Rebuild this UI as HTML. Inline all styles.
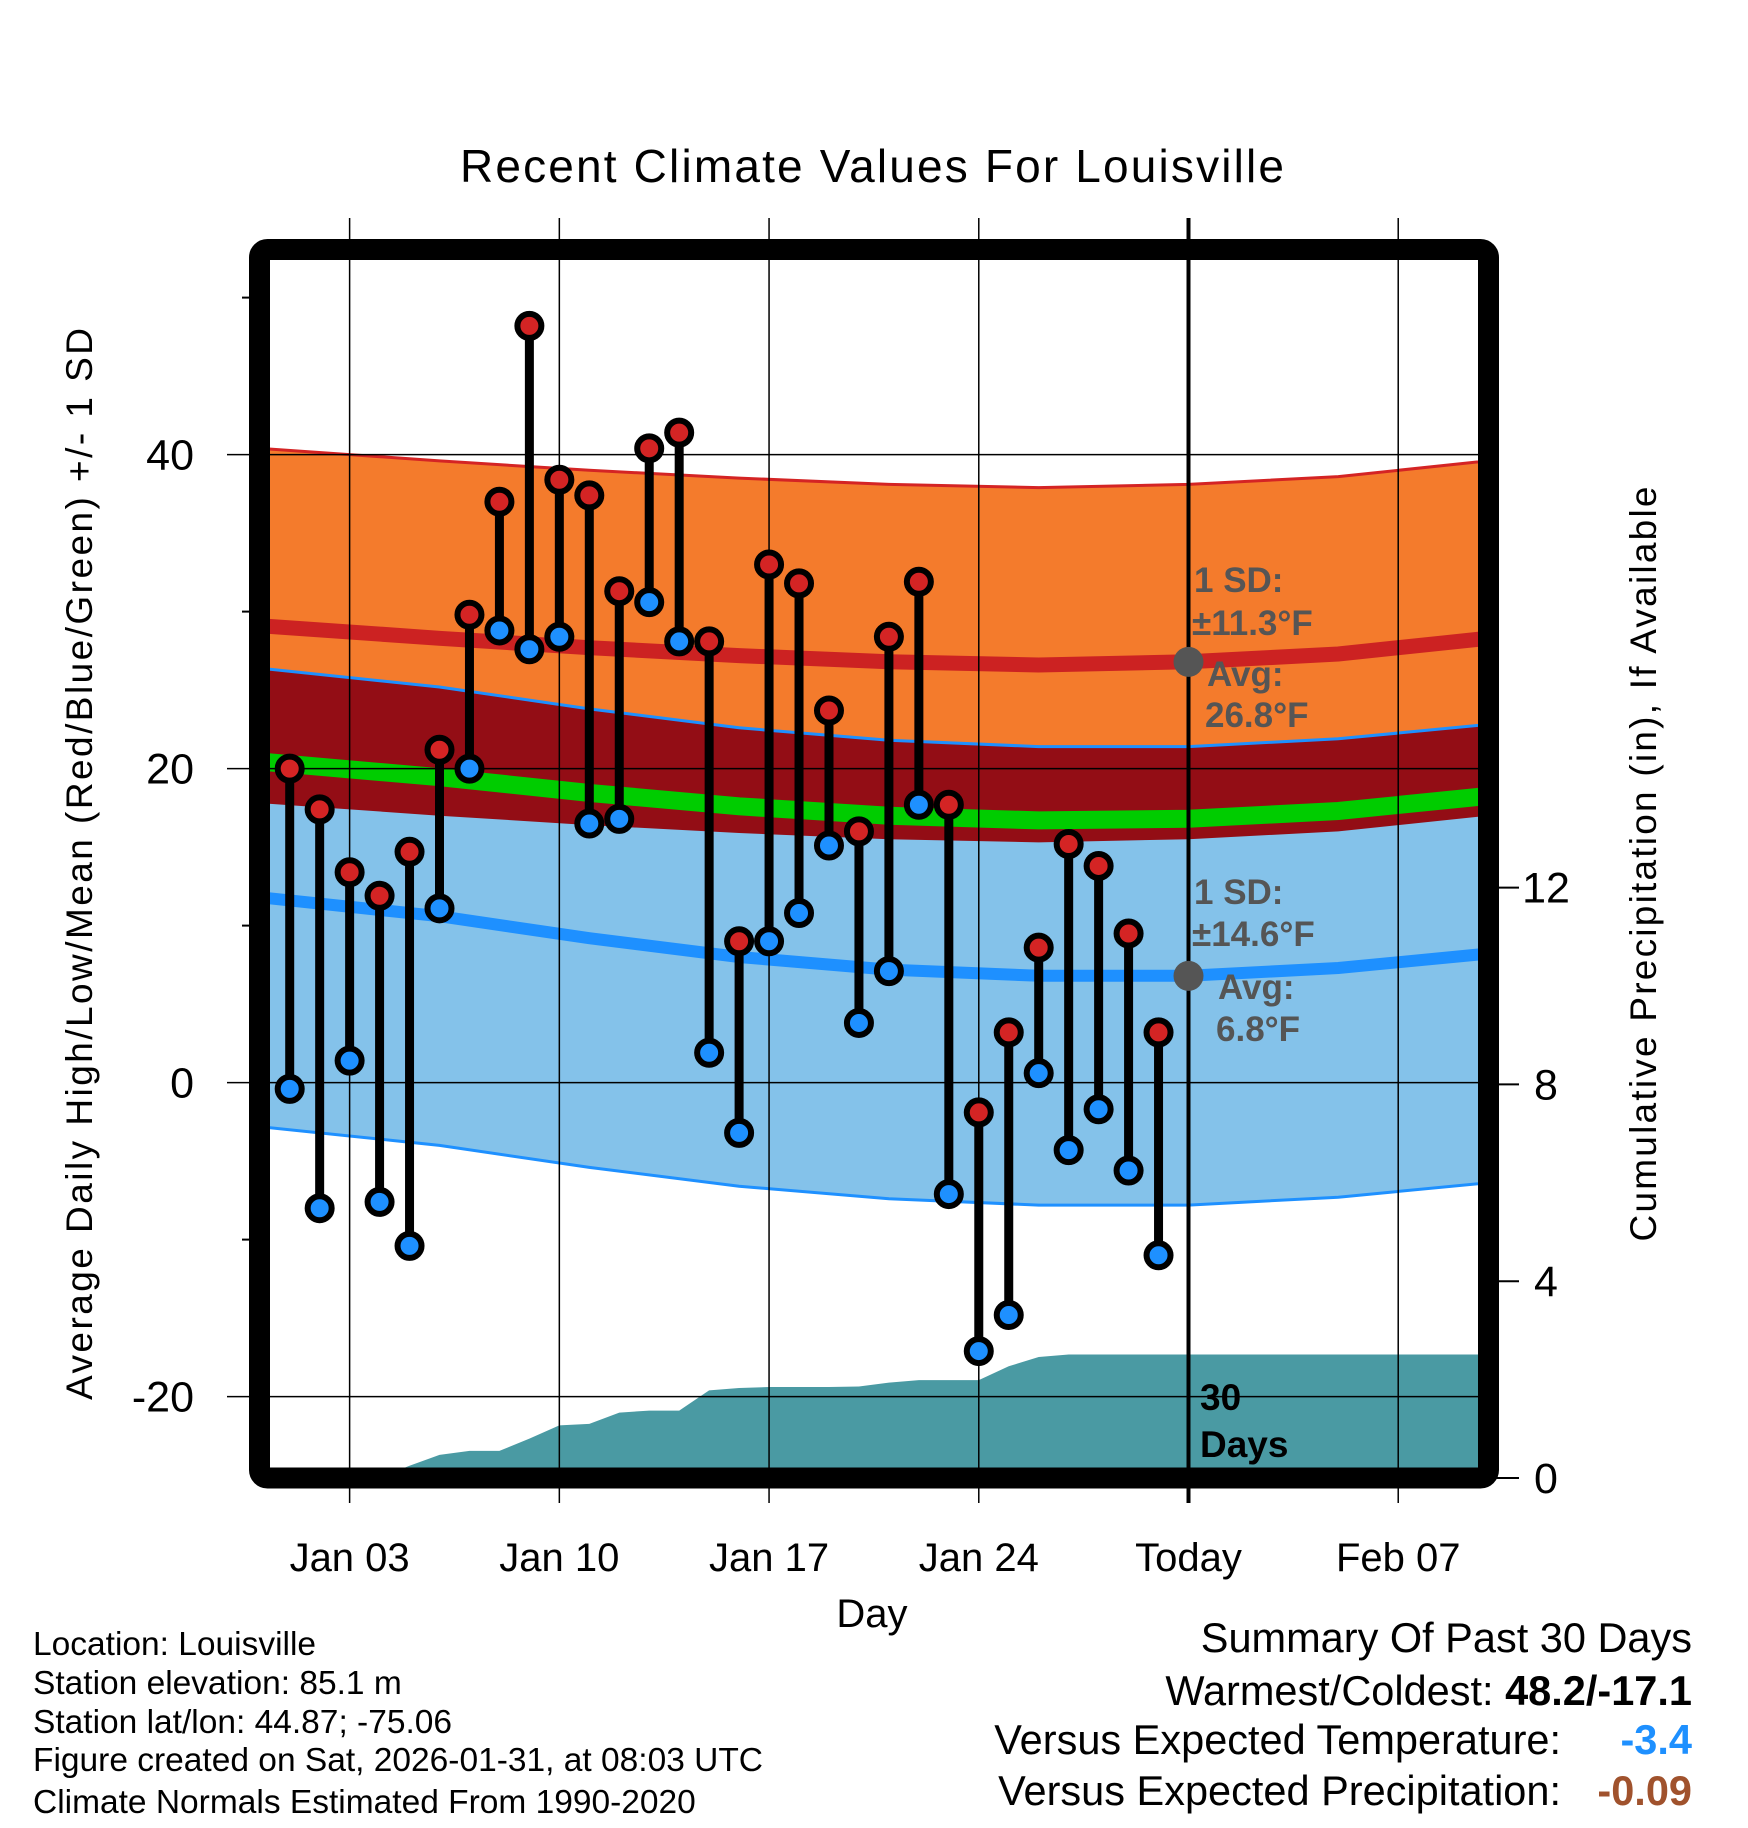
<!DOCTYPE html>
<html><head><meta charset="utf-8"><style>
html,body{margin:0;padding:0;background:#fff}
svg{display:block;font-family:"Liberation Sans",sans-serif}
</style></head><body>
<svg id="chart" width="1748" height="1828" viewBox="0 0 1748 1828" xmlns="http://www.w3.org/2000/svg">
<defs><clipPath id="plotclip"><rect x="269" y="260" width="1209" height="1208"/></clipPath></defs>
<text x="872" y="182" font-size="46" text-anchor="middle" textLength="824">Recent Climate Values For Louisville</text>
<g id="bands" clip-path="url(#plotclip)"></g>
<g id="grid"></g>
<g id="marks" clip-path="url(#plotclip)"></g>
<g id="frame"></g>
<g id="labels"></g>
</svg>
<script>
// ---- data ----
const days = [1,2,3,4,5,6,7,8,9,10,11,12,13,14,15,16,17,18,19,20,21,22,23,24,25,26,27,28,29,30];
const highs = [20.0,17.4,13.4,11.9,14.7,21.2,29.8,37.0,48.2,38.4,37.4,31.3,40.4,41.4,28.1,9.0,33.0,31.8,23.7,16.0,28.4,31.9,17.7,-1.9,3.2,8.6,15.2,13.8,9.5,3.2];
const lows = [-0.4,-8.0,1.4,-7.6,-10.4,11.1,20.0,28.8,27.6,28.4,16.5,16.8,30.6,28.1,1.9,-3.2,9.0,10.8,15.1,3.8,7.1,17.7,-7.1,-17.1,-14.8,0.6,-4.3,-1.7,-5.6,-11.0];
const precipCum = [0,0,0,0,0.25,0.47,0.55,0.55,0.8,1.07,1.1,1.33,1.37,1.37,1.78,1.83,1.85,1.85,1.85,1.86,1.94,1.99,1.99,1.99,2.27,2.46,2.51,2.51,2.51,2.51];
const normDays = [0,6,11,16,21,26,31,36,42];
const normHigh = [29.1,28.3,27.7,27.2,26.8,26.6,26.8,27.3,28.5];
const normLow = [11.8,10.6,9.2,8.0,7.2,6.8,6.8,7.3,8.4];
const sdHigh = 11.3;
const sdLow = 14.6;
const tempTicks = [40,20,0,-20];
const tempMinor = [50,30,10,-10];
const precipTicks = [0,4,8,12];
const xTickDays = [3,10,17,24,31,38];
const xTickLabels = ["Jan 03","Jan 10","Jan 17","Jan 24","Today","Feb 07"];
// ---- axes ----
const X = d => 289.7 + (d-1)*29.96;
const Y = t => 1082.6 - t*15.7;
const P = p => 1478 - p*49.2;
const NS = "http://www.w3.org/2000/svg";
function mk(tag, attrs, parent){const e=document.createElementNS(NS,tag);for(const k in attrs)e.setAttribute(k,attrs[k]);parent.appendChild(e);return e;}
const bands=document.getElementById('bands'), grid=document.getElementById('grid'), marks=document.getElementById('marks'), frame=document.getElementById('frame'), labels=document.getElementById('labels');
function pts(f){return normDays.map((d,i)=>X(d).toFixed(1)+','+Y(f(i)).toFixed(1));}
function band(top,bot,fill,name){
  const p=pts(top).concat(pts(bot).reverse()).join(' ');
  const e=mk('polygon',{points:p,fill:fill},bands);
  
  
}
function line(f,color,w,name){
  const e=mk('polyline',{points:pts(f).join(' '),fill:'none',stroke:color,'stroke-width':w},bands);
  
  
}
band(i=>normHigh[i]+sdHigh,i=>normHigh[i]-sdHigh,'#f47b2c','high-sd-band');
band(i=>normLow[i]+sdLow,i=>normLow[i]-sdLow,'#84c2ea','low-sd-band');
band(i=>normLow[i]+sdLow,i=>normHigh[i]-sdHigh,'#930d15','overlap-band');
line(i=>normHigh[i]+sdHigh,'#d42424',3,'high-sd-top-line');
line(i=>normLow[i]+sdLow,'#1e90ff',3,'low-sd-top-line');
line(i=>normLow[i]-sdLow,'#1e90ff',3,'low-sd-bottom-line');
line(i=>normHigh[i],'#cc2222',15,'normal-high-line');
line(i=>normLow[i],'#1e90ff',12,'normal-low-line');
line(i=>(normHigh[i]+normLow[i])/2,'#00cc00',18,'normal-mean-line');
// precip area
{
  let p=[X(days[0])+','+P(0)];
  days.forEach((d,i)=>p.push(X(d).toFixed(1)+','+P(precipCum[i]).toFixed(1)));
  p.push('1480,'+P(precipCum[precipCum.length-1]).toFixed(1));
  p.push('1480,'+P(0));
  const e=mk('polygon',{points:p.join(' '),fill:'#4a9aa3'},bands);
  
  
}
// grid
xTickDays.forEach((d,i)=>{
  const today = xTickLabels[i]==='Today';
  const e=mk('line',{x1:X(d),x2:X(d),y1:218,y2:1503,stroke:'#000','stroke-width':today?4:1.5},grid);
  
  
  const t=mk('text',{x:X(d),y:1571,'font-size':40,'text-anchor':'middle'},labels);
  t.textContent=xTickLabels[i];
  
  
});
tempTicks.forEach(v=>{
  const e=mk('line',{x1:227,x2:1478,y1:Y(v),y2:Y(v),stroke:'#000','stroke-width':1.5},grid);
  
  
  const t=mk('text',{x:194,y:Y(v)+15,'font-size':43,'text-anchor':'end'},labels);
  t.textContent=String(v);
  
  
});
tempMinor.forEach(v=>{
  const e=mk('line',{x1:242,x2:252,y1:Y(v),y2:Y(v),stroke:'#000','stroke-width':2},grid);
  
  
});
precipTicks.forEach(v=>{
  const e=mk('line',{x1:1488,x2:1519,y1:P(v),y2:P(v),stroke:'#000','stroke-width':2},grid);
  
  
  const t=mk('text',{x:1546,y:P(v)+15,'font-size':43,'text-anchor':'middle'},labels);
  t.textContent=String(v);
  
  
});
// marks
days.forEach((d,i)=>{
  const e=mk('line',{x1:X(d),x2:X(d),y1:Y(highs[i]),y2:Y(lows[i]),stroke:'#000','stroke-width':9},marks);
  
  
});
days.forEach((d,i)=>{
  const h=mk('circle',{cx:X(d),cy:Y(highs[i]),r:12,fill:'#d42424',stroke:'#000','stroke-width':6},marks);
  
  
  const l=mk('circle',{cx:X(d),cy:Y(lows[i]),r:12,fill:'#1e90ff',stroke:'#000','stroke-width':6},marks);
  
  
});
// today avg markers
[normHigh[6],normLow[6]].forEach((v,i)=>{
  const c=mk('circle',{cx:X(31),cy:Y(v),r:15,fill:'#555'},marks);
  
  
});
// frame
{
  const e=mk('rect',{x:259.5,y:249.5,width:1229,height:1228.5,rx:8,fill:'none',stroke:'#000','stroke-width':21},frame);
  
  
}
</script>
<svg style="position:absolute;left:0;top:0" width="1748" height="1828" viewBox="0 0 1748 1828" xmlns="http://www.w3.org/2000/svg" font-family="Liberation Sans, sans-serif">
<g font-weight="bold" font-size="35" fill="#555">
<text x="1194" y="592">1 SD:</text>
<text x="1192" y="635">±11.3°F</text>
<text x="1207" y="686">Avg:</text>
<text x="1205" y="727">26.8°F</text>
<text x="1194" y="904">1 SD:</text>
<text x="1192" y="946">±14.6°F</text>
<text x="1218" y="999">Avg:</text>
<text x="1216" y="1041">6.8°F</text>
</g>
<g font-weight="bold" font-size="37" fill="#000">
<text x="1200" y="1410">30</text>
<text x="1200" y="1457">Days</text>
</g>
<text transform="translate(92,864) rotate(-90)" font-size="37" text-anchor="middle" textLength="1072">Average Daily High/Low/Mean (Red/Blue/Green) +/- 1 SD</text>
<text transform="translate(1656,864) rotate(-90)" font-size="37" text-anchor="middle" textLength="755">Cumulative Precipitation (in), If Available</text>
<text x="872" y="1627" font-size="40" text-anchor="middle">Day</text>
<g font-size="33.5">
<text x="33" y="1655">Location: Louisville</text>
<text x="33" y="1694">Station elevation: 85.1 m</text>
<text x="33" y="1733">Station lat/lon: 44.87; -75.06</text>
<text x="33" y="1771">Figure created on Sat, 2026-01-31, at 08:03 UTC</text>
<text x="33" y="1813">Climate Normals Estimated From 1990-2020</text>
</g>
<g font-size="41.5">
<text x="1692" y="1652" text-anchor="end">Summary Of Past 30 Days</text>
<text x="1692" y="1705" text-anchor="end"><tspan>Warmest/Coldest:  </tspan><tspan font-weight="bold">48.2/-17.1</tspan></text>
<text x="1561" y="1754" text-anchor="end">Versus Expected Temperature:</text>
<text x="1692" y="1754" text-anchor="end" font-weight="bold" fill="#1e90ff">-3.4</text>
<text x="1561" y="1805" text-anchor="end">Versus Expected Precipitation:</text>
<text x="1692" y="1805" text-anchor="end" font-weight="bold" fill="#a0522d">-0.09</text>
</g>
</svg>
</body></html>
